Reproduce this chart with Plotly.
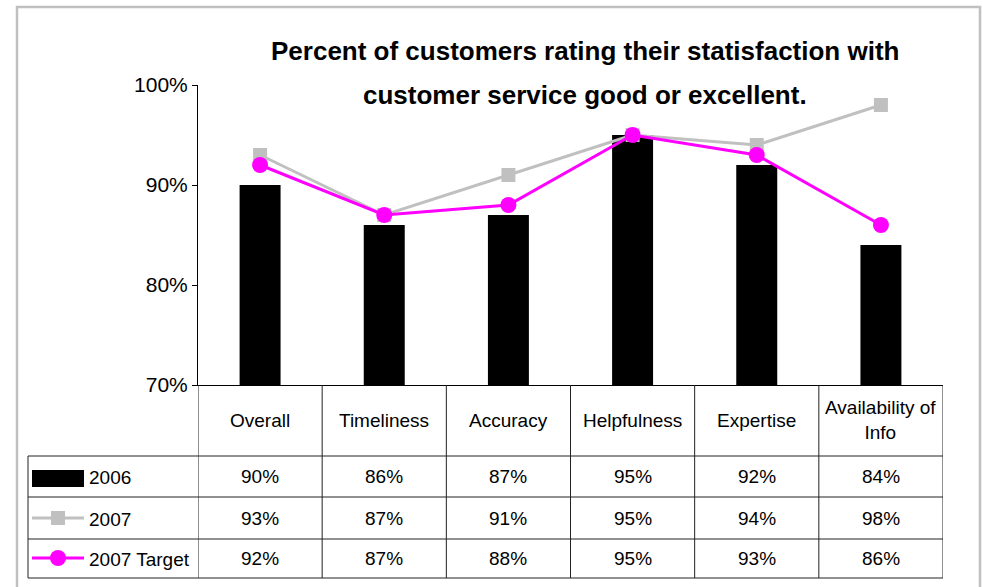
import plotly.graph_objects as go

W, H = 983, 587

categories = ["Overall", "Timeliness", "Accuracy", "Helpfulness", "Expertise", "Availability of Info"]
header_labels = ["Overall", "Timeliness", "Accuracy", "Helpfulness", "Expertise", "Availability of<br>Info"]
series_names = ["2006", "2007", "2007 Target"]
v2006 = [90, 86, 87, 95, 92, 84]
v2007 = [93, 87, 91, 95, 94, 98]
v2007_target = [92, 87, 88, 95, 93, 86]
y_ticks = [70, 80, 90, 100]
y_tick_labels = ["70%", "80%", "90%", "100%"]
title_lines = ["Percent of customers rating their statisfaction with",
               "customer service good or excellent."]

FONT = "Liberation Sans, Arial, sans-serif"
GREY = "#C0C0C0"
MAG = "#FF00FF"


def px(x):
    return x / W


def py(y):
    return 1 - y / H


# plot area in pixels
L, R, T, B = 198, 943, 85, 385

fig = go.Figure()
fig.add_trace(go.Bar(x=categories, y=v2006, name=series_names[0],
                     marker=dict(color="black", line=dict(width=0)), width=0.33))
fig.add_trace(go.Scatter(x=categories, y=v2007, name=series_names[1], mode="lines+markers",
                         line=dict(color=GREY, width=3),
                         marker=dict(symbol="square", size=14, color=GREY)))
fig.add_trace(go.Scatter(x=categories, y=v2007_target, name=series_names[2], mode="lines+markers",
                         line=dict(color=MAG, width=3),
                         marker=dict(symbol="circle", size=16, color=MAG)))

fig.update_layout(
    width=W, height=H,
    margin=dict(l=0, r=0, t=0, b=0),
    autosize=False,
    paper_bgcolor="white", plot_bgcolor="white",
    showlegend=False,
    font=dict(family=FONT, color="black"),
    xaxis=dict(domain=[px(L), px(R)], type="category", range=[-0.5, 5.5],
               showticklabels=False, showline=True, linecolor="black", linewidth=1,
               ticks="", showgrid=False, zeroline=False, automargin=False, fixedrange=True),
    yaxis=dict(domain=[py(B), py(T)], range=[70, 100], tickmode="array",
               tickvals=y_ticks, ticktext=y_tick_labels,
               showline=True, linecolor="black", linewidth=1, ticks="outside", ticklen=5,
               tickcolor="black", showgrid=False, zeroline=False,
               tickfont=dict(size=21, family=FONT, color="black"), automargin=False,
               fixedrange=True),
)

shapes = []
# outer border
shapes.append(dict(type="rect", xref="paper", yref="paper", x0=px(17), x1=px(980),
                   y0=py(600), y1=py(7), line=dict(color=GREY, width=2.5), layer="below"))
line_col = "#222222"
# vertical table lines at category boundaries
for i in range(len(categories) + 1):
    shapes.append(dict(type="line", xref="x", yref="paper", x0=i - 0.5, x1=i - 0.5,
                       y0=py(B), y1=py(578), line=dict(color=line_col, width=1)))
# left edge of legend column
shapes.append(dict(type="line", xref="paper", yref="paper", x0=px(28), x1=px(28),
                   y0=py(456), y1=py(578), line=dict(color=line_col, width=1)))
# horizontal row lines
for yy in [456, 497, 539, 578]:
    shapes.append(dict(type="line", xref="paper", yref="paper", x0=px(28), x1=px(R),
                       y0=py(yy), y1=py(yy), line=dict(color=line_col, width=1)))

row_centers = [476, 518, 558]
# legend keys
shapes.append(dict(type="rect", xref="paper", yref="paper", x0=px(32), x1=px(84),
                   y0=py(487), y1=py(470), fillcolor="black", line=dict(width=0)))
shapes.append(dict(type="line", xref="paper", yref="paper", x0=px(32), x1=px(84),
                   y0=py(row_centers[1]), y1=py(row_centers[1]), line=dict(color=GREY, width=3)))
shapes.append(dict(type="rect", xref="paper", yref="paper", x0=px(51), x1=px(65),
                   y0=py(row_centers[1] + 7), y1=py(row_centers[1] - 7), fillcolor=GREY,
                   line=dict(width=0)))
shapes.append(dict(type="line", xref="paper", yref="paper", x0=px(32), x1=px(84),
                   y0=py(row_centers[2]), y1=py(row_centers[2]), line=dict(color=MAG, width=3)))
shapes.append(dict(type="circle", xref="paper", yref="paper", x0=px(50), x1=px(66),
                   y0=py(row_centers[2] + 8), y1=py(row_centers[2] - 8), fillcolor=MAG,
                   line=dict(width=0)))
fig.update_layout(shapes=shapes)

ann = []
# title
for k, t in enumerate(title_lines):
    ann.append(dict(text="<b>" + t + "</b>", xref="paper", yref="paper", x=px(585),
                    y=py([51, 95][k]), xanchor="center", yanchor="middle", showarrow=False,
                    font=dict(size=26, family=FONT, color="black")))
tf = dict(size=19, family=FONT, color="black")
# header
for c, lab in zip(categories, header_labels):
    ann.append(dict(text=lab, x=c, xref="x", yref="paper", y=py(420), xanchor="center",
                    yanchor="middle", showarrow=False, font=tf))
# values
for r, vals in enumerate([v2006, v2007, v2007_target]):
    for c, v in zip(categories, vals):
        ann.append(dict(text=f"{v}%", x=c, xref="x", yref="paper", y=py(row_centers[r]),
                        xanchor="center", yanchor="middle", showarrow=False, font=tf))
    ann.append(dict(text=series_names[r], xref="paper", yref="paper", x=px(87),
                    y=py(row_centers[r] + 1), xanchor="left", yanchor="middle",
                    showarrow=False, font=tf))
fig.update_layout(annotations=ann)

fig.write_html("out.html")
